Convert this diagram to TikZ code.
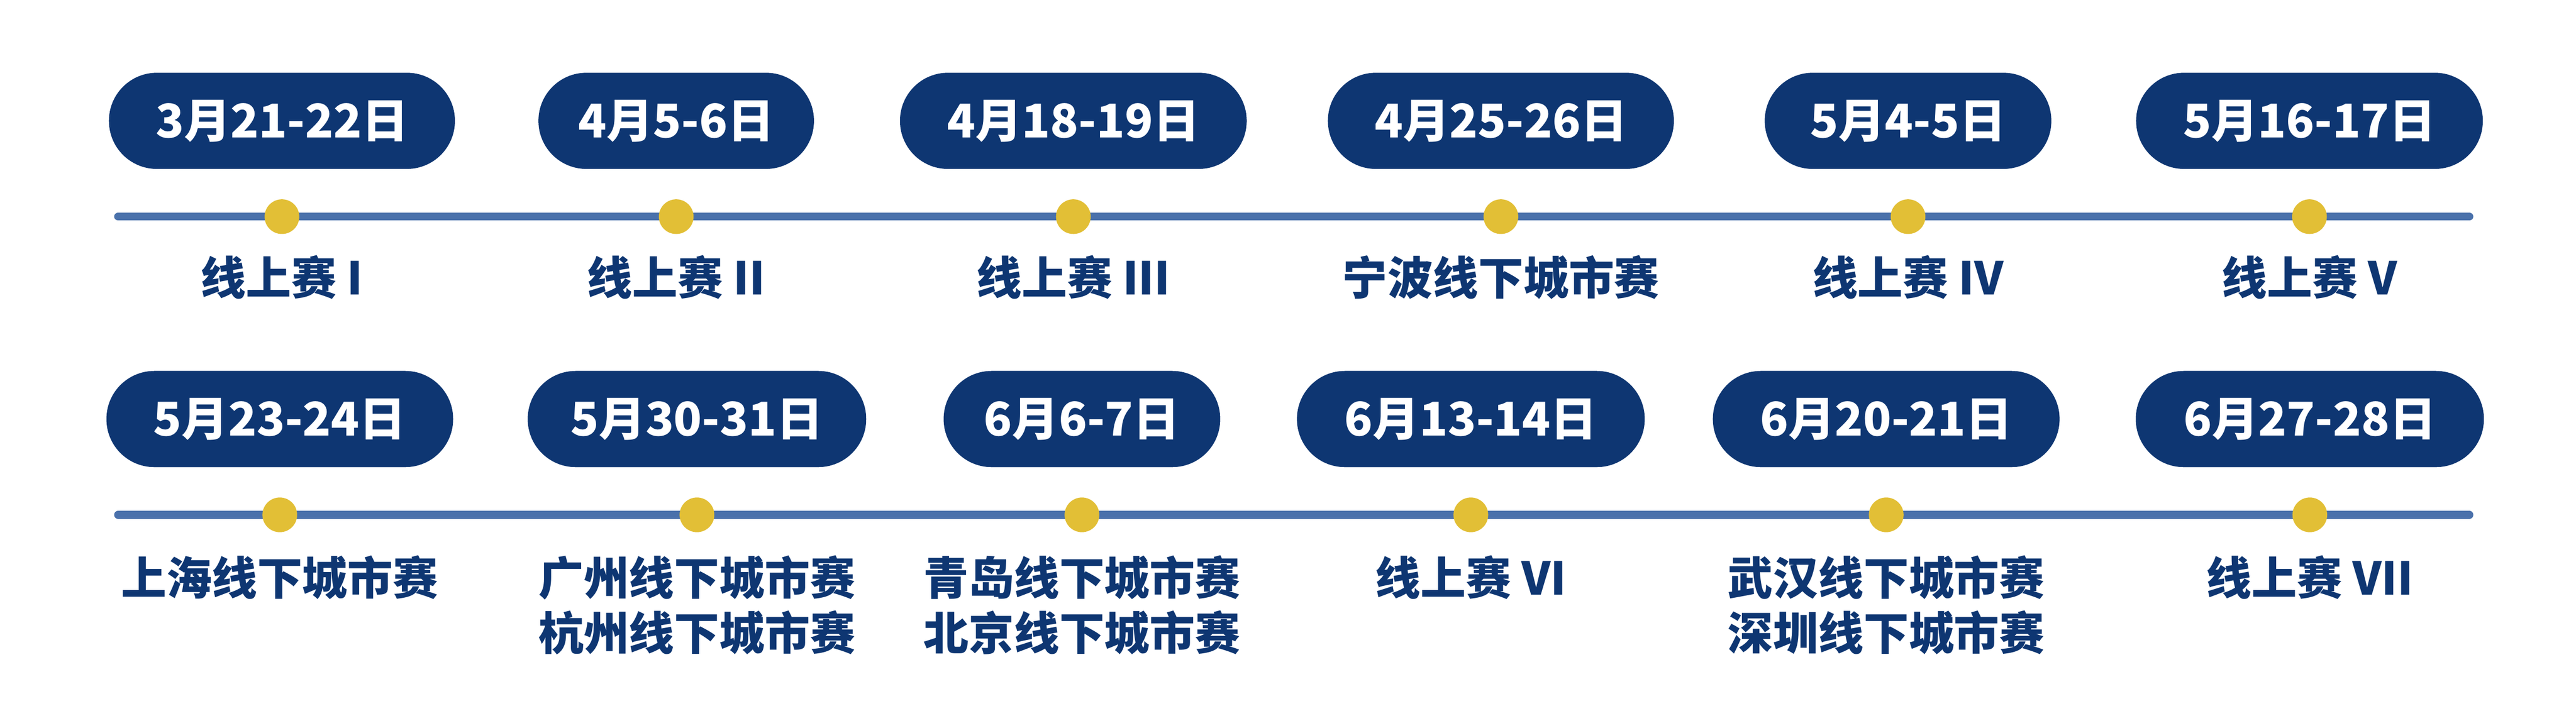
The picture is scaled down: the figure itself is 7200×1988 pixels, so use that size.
\documentclass[tikz,border=0pt]{standalone}
\usepackage{fontspec}
\setmainfont{Noto Sans CJK SC}
\definecolor{navy}{HTML}{0E3672}
\definecolor{bar}{HTML}{4A71AB}
\definecolor{gold}{HTML}{E2BF36}
\begin{document}
\begin{tikzpicture}[line cap=round, x=0.1mm, y=-0.1mm,
    pill/.style={fill=navy, text=white, font=\bfseries\fontsize{37pt}{40pt}\selectfont,
        minimum height=26.9mm, rounded corners=13.4mm, inner sep=0pt},
    dot/.style={circle, fill=gold, minimum size=9.7mm, inner sep=0pt},
    race/.style={text=navy, font=\bfseries\fontsize{36pt}{43.8pt}\selectfont,
        align=center, anchor=north, inner sep=0pt},
    bar/.style={draw=bar, line width=2.2mm}
    ]
    \useasboundingbox (0,0) rectangle (7200,1988);
    \path
    (330,606) coordinate (a0)
    (6902,606) coordinate (a1)
    (330,1440) coordinate (b0)
    (6902,1440) coordinate (b1);
    \draw[bar] (a0)--(a1);
    \draw[bar] (b0)--(b1);
    %Hàng trên
    \foreach \x/\w/\d/\t [count=\i] in {788/96.7/3月21-22日/线上赛 I, 1890/77.0/4月5-6日/线上赛 II,
        3000/96.9/4月18-19日/线上赛 III, 4195/96.7/4月25-26日/宁波线下城市赛,
        5333/80.1/5月4-5日/线上赛 IV, 6455/96.9/5月16-17日/线上赛 V}
    {
    \node[pill, minimum width=\w mm] (pa\i) at (\x,338) {\d};
    \node[dot] (da\i) at (\x,606) {};
    \node[race] (ra\i) at (\x,713) {\t};
    }
    %Hàng dưới
    \foreach \x/\w/\d/\t [count=\i] in {782/96.9/5月23-24日/上海线下城市赛,
        1948/94.6/5月30-31日/广州线下城市赛\\杭州线下城市赛,
        3024/77.3/6月6-7日/青岛线下城市赛\\北京线下城市赛, 4111/97.2/6月13-14日/线上赛 VI,
        5272/96.9/6月20-21日/武汉线下城市赛\\深圳线下城市赛, 6456/97.3/6月27-28日/线上赛 VII}
    {
    \node[pill, minimum width=\w mm] (pb\i) at (\x,1172) {\d};
    \node[dot] (db\i) at (\x,1440) {};
    \node[race] (rb\i) at (\x,1553) {\t};
    }
\end{tikzpicture}
\end{document}
